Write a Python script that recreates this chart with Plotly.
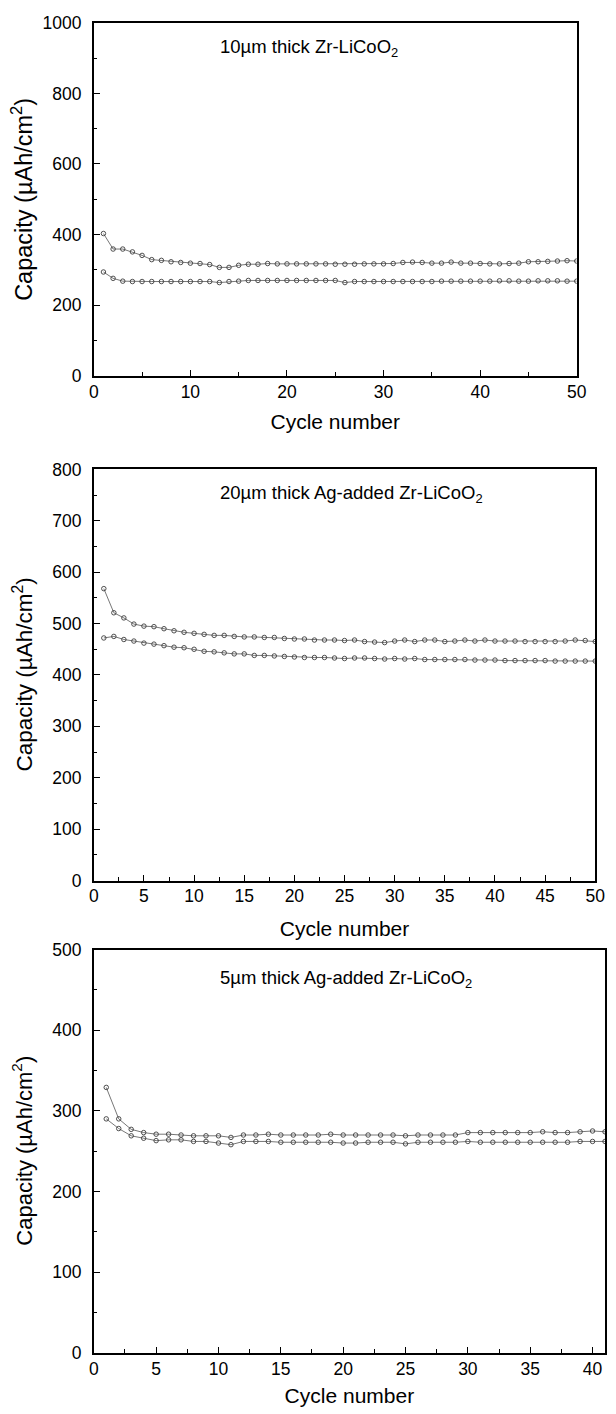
import plotly.graph_objects as go

FONT = "Liberation Sans, Arial, Helvetica, sans-serif"

# ---------------- data ----------------
cycles_a = list(range(1, 51))
a_upper = [403, 359, 359, 351, 341, 329, 327, 323, 321, 319, 318, 315, 307, 307, 313, 316, 316, 318, 317, 317,
           317, 317, 317, 317, 316, 316, 316, 317, 317, 317, 318, 321, 322, 321, 319, 319, 322, 319, 319, 318,
           317, 317, 318, 319, 323, 323, 324, 325, 326, 325]
a_lower = [294, 276, 268, 267, 267, 267, 267, 267, 267, 267, 267, 267, 264, 267, 268, 270, 270, 270, 270, 270,
           270, 270, 270, 270, 270, 264, 267, 267, 267, 267, 267, 267, 267, 267, 267, 268, 268, 268, 268, 268,
           268, 269, 269, 268, 268, 269, 269, 269, 268, 268]

cycles_b = list(range(1, 51))
b_upper = [568, 521, 511, 499, 495, 494, 490, 486, 483, 481, 479, 477, 477, 475, 474, 474, 473, 473, 471, 470,
           470, 468, 468, 468, 467, 468, 465, 464, 463, 466, 468, 465, 468, 468, 465, 466, 468, 466, 468, 466,
           466, 466, 465, 465, 465, 465, 466, 468, 467, 465]
b_lower = [472, 475, 469, 466, 462, 460, 457, 454, 453, 450, 446, 445, 443, 441, 441, 438, 438, 437, 436, 435,
           434, 434, 434, 433, 432, 433, 433, 432, 431, 432, 431, 432, 430, 430, 430, 430, 430, 429, 429, 429,
           428, 428, 428, 428, 428, 427, 427, 427, 427, 427]

cycles_c = list(range(1, 42))
c_upper = [329, 290, 277, 273, 271, 271, 270, 269, 269, 269, 267, 270, 270, 271, 270, 270, 270, 270, 271, 270,
           270, 270, 270, 270, 269, 270, 270, 270, 270, 273, 273, 273, 273, 273, 273, 274, 273, 273, 274, 275,
           274]
c_lower = [290, 278, 269, 266, 263, 264, 264, 262, 262, 260, 258, 262, 262, 262, 261, 261, 261, 261, 261, 260,
           260, 261, 261, 261, 259, 261, 261, 261, 261, 262, 261, 261, 261, 261, 261, 261, 261, 261, 262, 262,
           262]

panel_titles = ["10µm thick Zr-LiCoO<sub>2</sub>",
                "20µm thick Ag-added Zr-LiCoO<sub>2</sub>",
                "5µm thick Ag-added Zr-LiCoO<sub>2</sub>"]
x_title = "Cycle number"
y_title = "Capacity (µAh/cm<sup>2</sup>)"

# ---------------- figure ----------------
W, H = 616, 1414
fig = go.Figure()

panels = [
    # (x, series, axis suffix, x range, x dtick, x minor, y range, y dtick, y minor,
    #  px box l,r,t,b, title offset, y-title size, x-title standoff)
    (cycles_a, (a_upper, a_lower), "", [0, 50], 10, 5, [0, 1000], 200, 100, (91, 586, 13, 371), 26, 23.5, 14),
    (cycles_b, (b_upper, b_lower), "2", [0, 50], 5, 2.5, [0, 800], 100, 50, (91, 605, 466, 883), 25, 22.5, 16),
    (cycles_c, (c_upper, c_lower), "3", [0, 41.0], 5, 2.5, [0, 500], 100, 50, (91, 615, 953, 1362), 30, 22, 11),
]

line_col = "#3c3c3c"
for i, (xs, series, sfx, xr, xd, xm, yr, yd, ym, box, toff, ysz, xso) in enumerate(panels):
    for ys in series:
        fig.add_trace(go.Scatter(
            x=xs, y=ys, mode="lines+markers",
            xaxis="x" + sfx, yaxis="y" + sfx,
            line=dict(color=line_col, width=0.7),
            marker=dict(symbol="circle-open", size=4.5, color=line_col, line=dict(width=0.9, color=line_col)),
            showlegend=False, hoverinfo="x+y",
        ))
    l, r, t, b = box
    xdom = [l / W, min(r / W, 1.0)]
    ydom = [1 - b / H, 1 - t / H]
    axis_common = dict(
        showline=True, linecolor="black", linewidth=1.6, mirror=True,
        ticks="inside", ticklen=6, tickwidth=1.3, tickcolor="black",
        showgrid=False, zeroline=False,
        tickfont=dict(family=FONT, size=17.5, color="black"),
    )
    fig.layout["xaxis" + sfx] = dict(
        axis_common, domain=xdom, anchor="y" + sfx, range=xr, dtick=xd, tick0=0,
        ticklabelstandoff=-1,
        minor=dict(dtick=xm, tick0=0, ticks="inside", ticklen=3.5, tickwidth=1.1, tickcolor="black"),
        title=dict(text=x_title, font=dict(family=FONT, size=21, color="black"), standoff=xso),
    )
    fig.layout["yaxis" + sfx] = dict(
        axis_common, domain=ydom, anchor="x" + sfx, range=yr, dtick=yd, tick0=0,
        ticklabelstandoff=7,
        minor=dict(dtick=ym, tick0=0, ticks="inside", ticklen=3.5, tickwidth=1.1, tickcolor="black"),
    )
    # y-axis title, at the same left position for every panel
    fig.add_annotation(
        text=y_title, xref="paper", yref="paper",
        x=18 / W, y=1 - (t + b) / 2 / H, xanchor="center", yanchor="middle",
        textangle=-90, showarrow=False, font=dict(family=FONT, size=ysz, color="black"),
    )
    fig.add_annotation(
        text=panel_titles[i], xref="paper", yref="paper",
        x=(l + 127) / W, y=1 - (t + toff) / H, xanchor="left", yanchor="middle",
        showarrow=False, font=dict(family=FONT, size=18.5, color="black"),
    )

fig.update_layout(
    width=W, height=H,
    margin=dict(l=0, r=0, t=0, b=0),
    paper_bgcolor="white", plot_bgcolor="white",
    font=dict(family=FONT, color="black"),
)

fig.write_html("out.html", include_plotlyjs=True)
